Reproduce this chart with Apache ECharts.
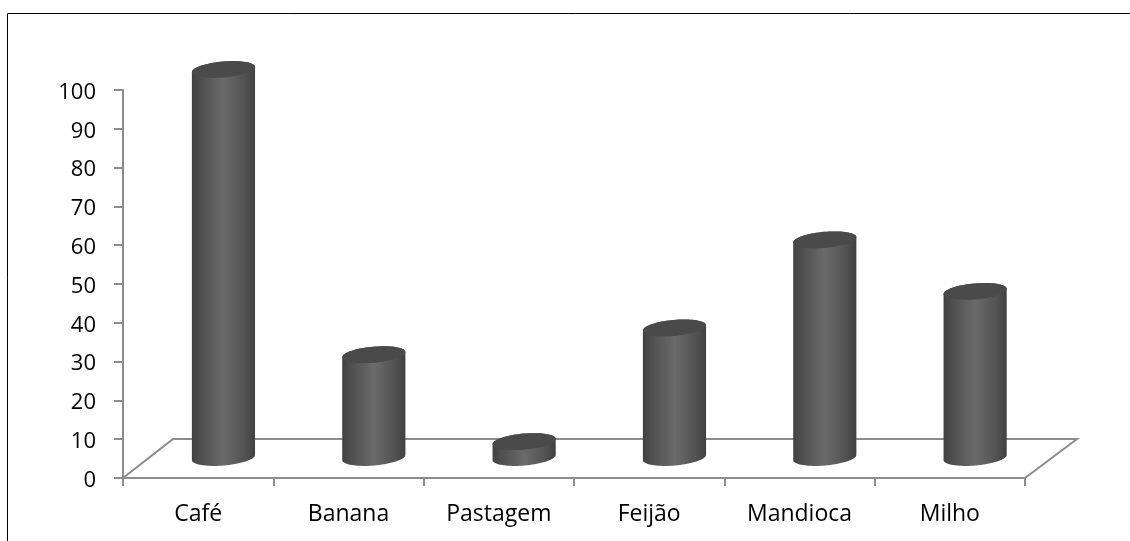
<!DOCTYPE html>
<html><head><meta charset="utf-8">
<style>html,body{margin:0;padding:0;background:#fff}#c{width:1130px;height:541px}</style>
<script src="https://cdn.jsdelivr.net/npm/echarts@6/dist/echarts.min.js"></script>
</head><body><div id="c"></div>
<script>
const categories = ['Café','Banana','Pastagem','Feijão','Mandioca','Milho'];
const values = [100, 26.5, 4.1, 33.4, 56.1, 42.8];
const axisColor = '#8c8c8c';
const depthX = 50, depthY = 39;
const semiMajor = 31.7, semiMinor = 8, tilt = -5 * Math.PI / 180;

function ellipsePoint(cx, cy, t) {
  const ct = Math.cos(t), st = Math.sin(t);
  return [
    cx + semiMajor * ct * Math.cos(tilt) - semiMinor * st * Math.sin(tilt),
    cy + semiMajor * ct * Math.sin(tilt) + semiMinor * st * Math.cos(tilt)
  ];
}
function arc(cx, cy, from, to, n) {
  const pts = [];
  for (let i = 0; i <= n; i++) pts.push(ellipsePoint(cx, cy, from + (to - from) * i / n));
  return pts;
}
function renderCylinder(params, api) {
  const cat = api.value(0), val = api.value(1);
  const base = api.coord([cat, 0]), top = api.coord([cat, val]);
  const cx = base[0] + depthX / 2 + 0.3, off = depthY / 2 + 1;
  const by = base[1] - off, ty = top[1] - off;
  const side = arc(cx, by, 0, Math.PI, 40).concat(arc(cx, ty, Math.PI, 2 * Math.PI, 40));
  const cap = arc(cx, ty, 0, 2 * Math.PI, 80);
  return { type: 'group', children: [
    { type: 'polygon', shape: { points: side }, style: { fill: new echarts.graphic.LinearGradient(0,0,1,0,[
      {offset:0,color:'#414141'},{offset:.12,color:'#4d4d4d'},{offset:.5,color:'#6a6a6a'},{offset:.85,color:'#515151'},{offset:1,color:'#404040'}]) } },
    { type: 'polygon', shape: { points: cap }, style: { fill: '#4a4a4a' } }
  ]};
}
function renderFloor(params, api) {
  if (params.dataIndex !== 0) return;
  const c = params.coordSys;
  const x0 = c.x, x1 = c.x + c.width, y0 = c.y + c.height;
  return { type: 'polyline', silent: true,
    shape: { points: [[x0,y0],[x0+depthX,y0-depthY],[x1+depthX+2,y0-depthY],[x1,y0]] },
    style: { fill: null, stroke: axisColor, lineWidth: 2 } };
}
const chart = echarts.init(document.getElementById('c'), null, {renderer:'canvas'});
const font = {fontFamily:'Open Sans', color:'#000'};
chart.setOption({
  animation:false,
  backgroundColor:'#fff',
  graphic:[{type:'polyline',silent:true,shape:{points:[[7.5,541],[7.5,13.5],[1130,13.5]]},style:{fill:null,stroke:'#000',lineWidth:1}}],
  grid:{left:123,right:105,top:90,bottom:63},
  xAxis:{type:'category',data:categories,boundaryGap:true,
    axisLine:{show:true,lineStyle:{color:axisColor,width:2}},
    axisTick:{show:true,alignWithLabel:false,length:8,lineStyle:{color:axisColor,width:2}},
    axisLabel:{...font,fontSize:23,margin:25},splitLine:{show:false}},
  yAxis:{type:'value',min:0,max:100,interval:10,
    axisLine:{show:true,lineStyle:{color:axisColor,width:2}},
    axisTick:{show:true,length:9,lineStyle:{color:axisColor,width:2}},
    axisLabel:{...font,fontSize:22,margin:27,formatter:'{a|{value}}',
      rich:{a:{fontFamily:'Open Sans',fontSize:22,color:'#000',padding:[5,0,0,0]}}},splitLine:{show:false}},
  series:[
    {type:'custom',coordinateSystem:'cartesian2d',silent:true,z:1,encode:{x:0,y:1},
      data:categories.map((c,i)=>[i,0]),renderItem:renderFloor},
    {type:'custom',coordinateSystem:'cartesian2d',silent:true,z:3,encode:{x:0,y:1},
      data:values.map((v,i)=>[i,v]),renderItem:renderCylinder}
  ]
});
</script></body></html>
